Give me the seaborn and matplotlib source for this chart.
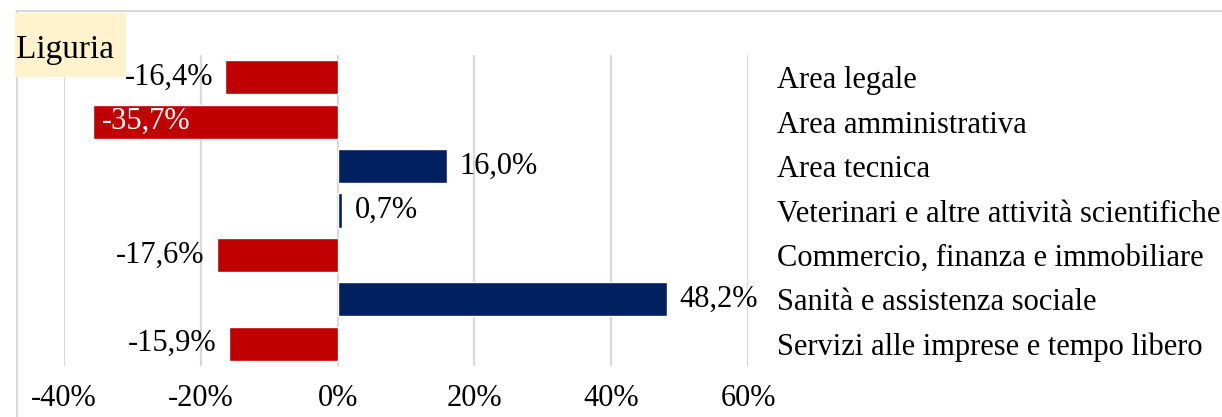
import matplotlib
matplotlib.use("Agg")
import matplotlib.pyplot as plt
from matplotlib.patches import Rectangle
from matplotlib.lines import Line2D
import seaborn as sns
import pandas as pd

categories = [
    "Area legale",
    "Area amministrativa",
    "Area tecnica",
    "Veterinari e altre attività scientifiche",
    "Commercio, finanza e immobiliare",
    "Sanità e assistenza sociale",
    "Servizi alle imprese e tempo libero",
]
values = [-16.4, -35.7, 16.0, 0.7, -17.6, 48.2, -15.9]
xticks = [-40, -20, 0, 20, 40, 60]
title = "Liguria"

RED = "#C00000"
NAVY = "#002060"
GRID = "#D9D9D9"

df = pd.DataFrame({"categoria": categories, "valore": values})
df["segno"] = ["neg" if v < 0 else "pos" for v in values]

sns.set_theme(style="white")
plt.rcParams["font.family"] = ["Liberation Serif", "DejaVu Serif"]
plt.rcParams["text.color"] = "black"
plt.rcParams["xtick.color"] = "black"
plt.rcParams["ytick.color"] = "black"

fig = plt.figure(figsize=(12.22, 4.17), dpi=100)
ax = fig.add_axes([64 / 1222, 1 - 366 / 417, (748 - 64) / 1222, (366 - 55) / 417])

sns.barplot(data=df, x="valore", y="categoria", hue="segno",
            palette={"neg": RED, "pos": NAVY}, dodge=False, legend=False,
            width=0.77, saturation=1, ax=ax, zorder=3)

ax.set_xlim(-40, 60)
ax.set_ylim(6.5, -0.5)
ax.set_xticks(xticks)
ax.set_xticklabels([f"{t}%" for t in xticks], fontsize=22)
ax.grid(axis="x", color=GRID, linewidth=1.6, zorder=0)
ax.set_axisbelow(True)
for s in ax.spines.values():
    s.set_visible(False)
ax.set_xlabel("")
ax.set_ylabel("")
ax.tick_params(axis="x", length=0, pad=13)
ax.yaxis.tick_right()
ax.tick_params(axis="y", length=0, pad=21, labelsize=22)
for lab in ax.get_yticklabels():
    lab.set_horizontalalignment("left")

# etichette dati
for i, v in enumerate(values):
    txt = f"{v:.1f}%".replace(".", ",")
    if v < -30:
        ax.annotate(txt, (v, i), xytext=(6, 0), textcoords="offset points",
                    ha="left", va="center", fontsize=22, color="white")
    elif v < 0:
        ax.annotate(txt, (v, i), xytext=(-9, 0), textcoords="offset points",
                    ha="right", va="center", fontsize=22, color="black")
    else:
        ax.annotate(txt, (v, i), xytext=(9, 0), textcoords="offset points",
                    ha="left", va="center", fontsize=22, color="black")

# bordo del grafico
fig.add_artist(Line2D([17 / 1222, 1], [1 - 11 / 417] * 2, color=GRID, linewidth=1.5))
fig.add_artist(Line2D([17 / 1222] * 2, [0, 1 - 11 / 417], color=GRID, linewidth=1.5))

# titolo con sfondo
fig.add_artist(Rectangle((15 / 1222, 1 - 77 / 417), 111 / 1222, 64 / 417,
                         facecolor="#FFF2CC", edgecolor="none", zorder=5))
fig.text(16 / 1222, 1 - 50 / 417, title, fontsize=24, va="center", ha="left", zorder=6)

fig.savefig("out.png", dpi=100)
